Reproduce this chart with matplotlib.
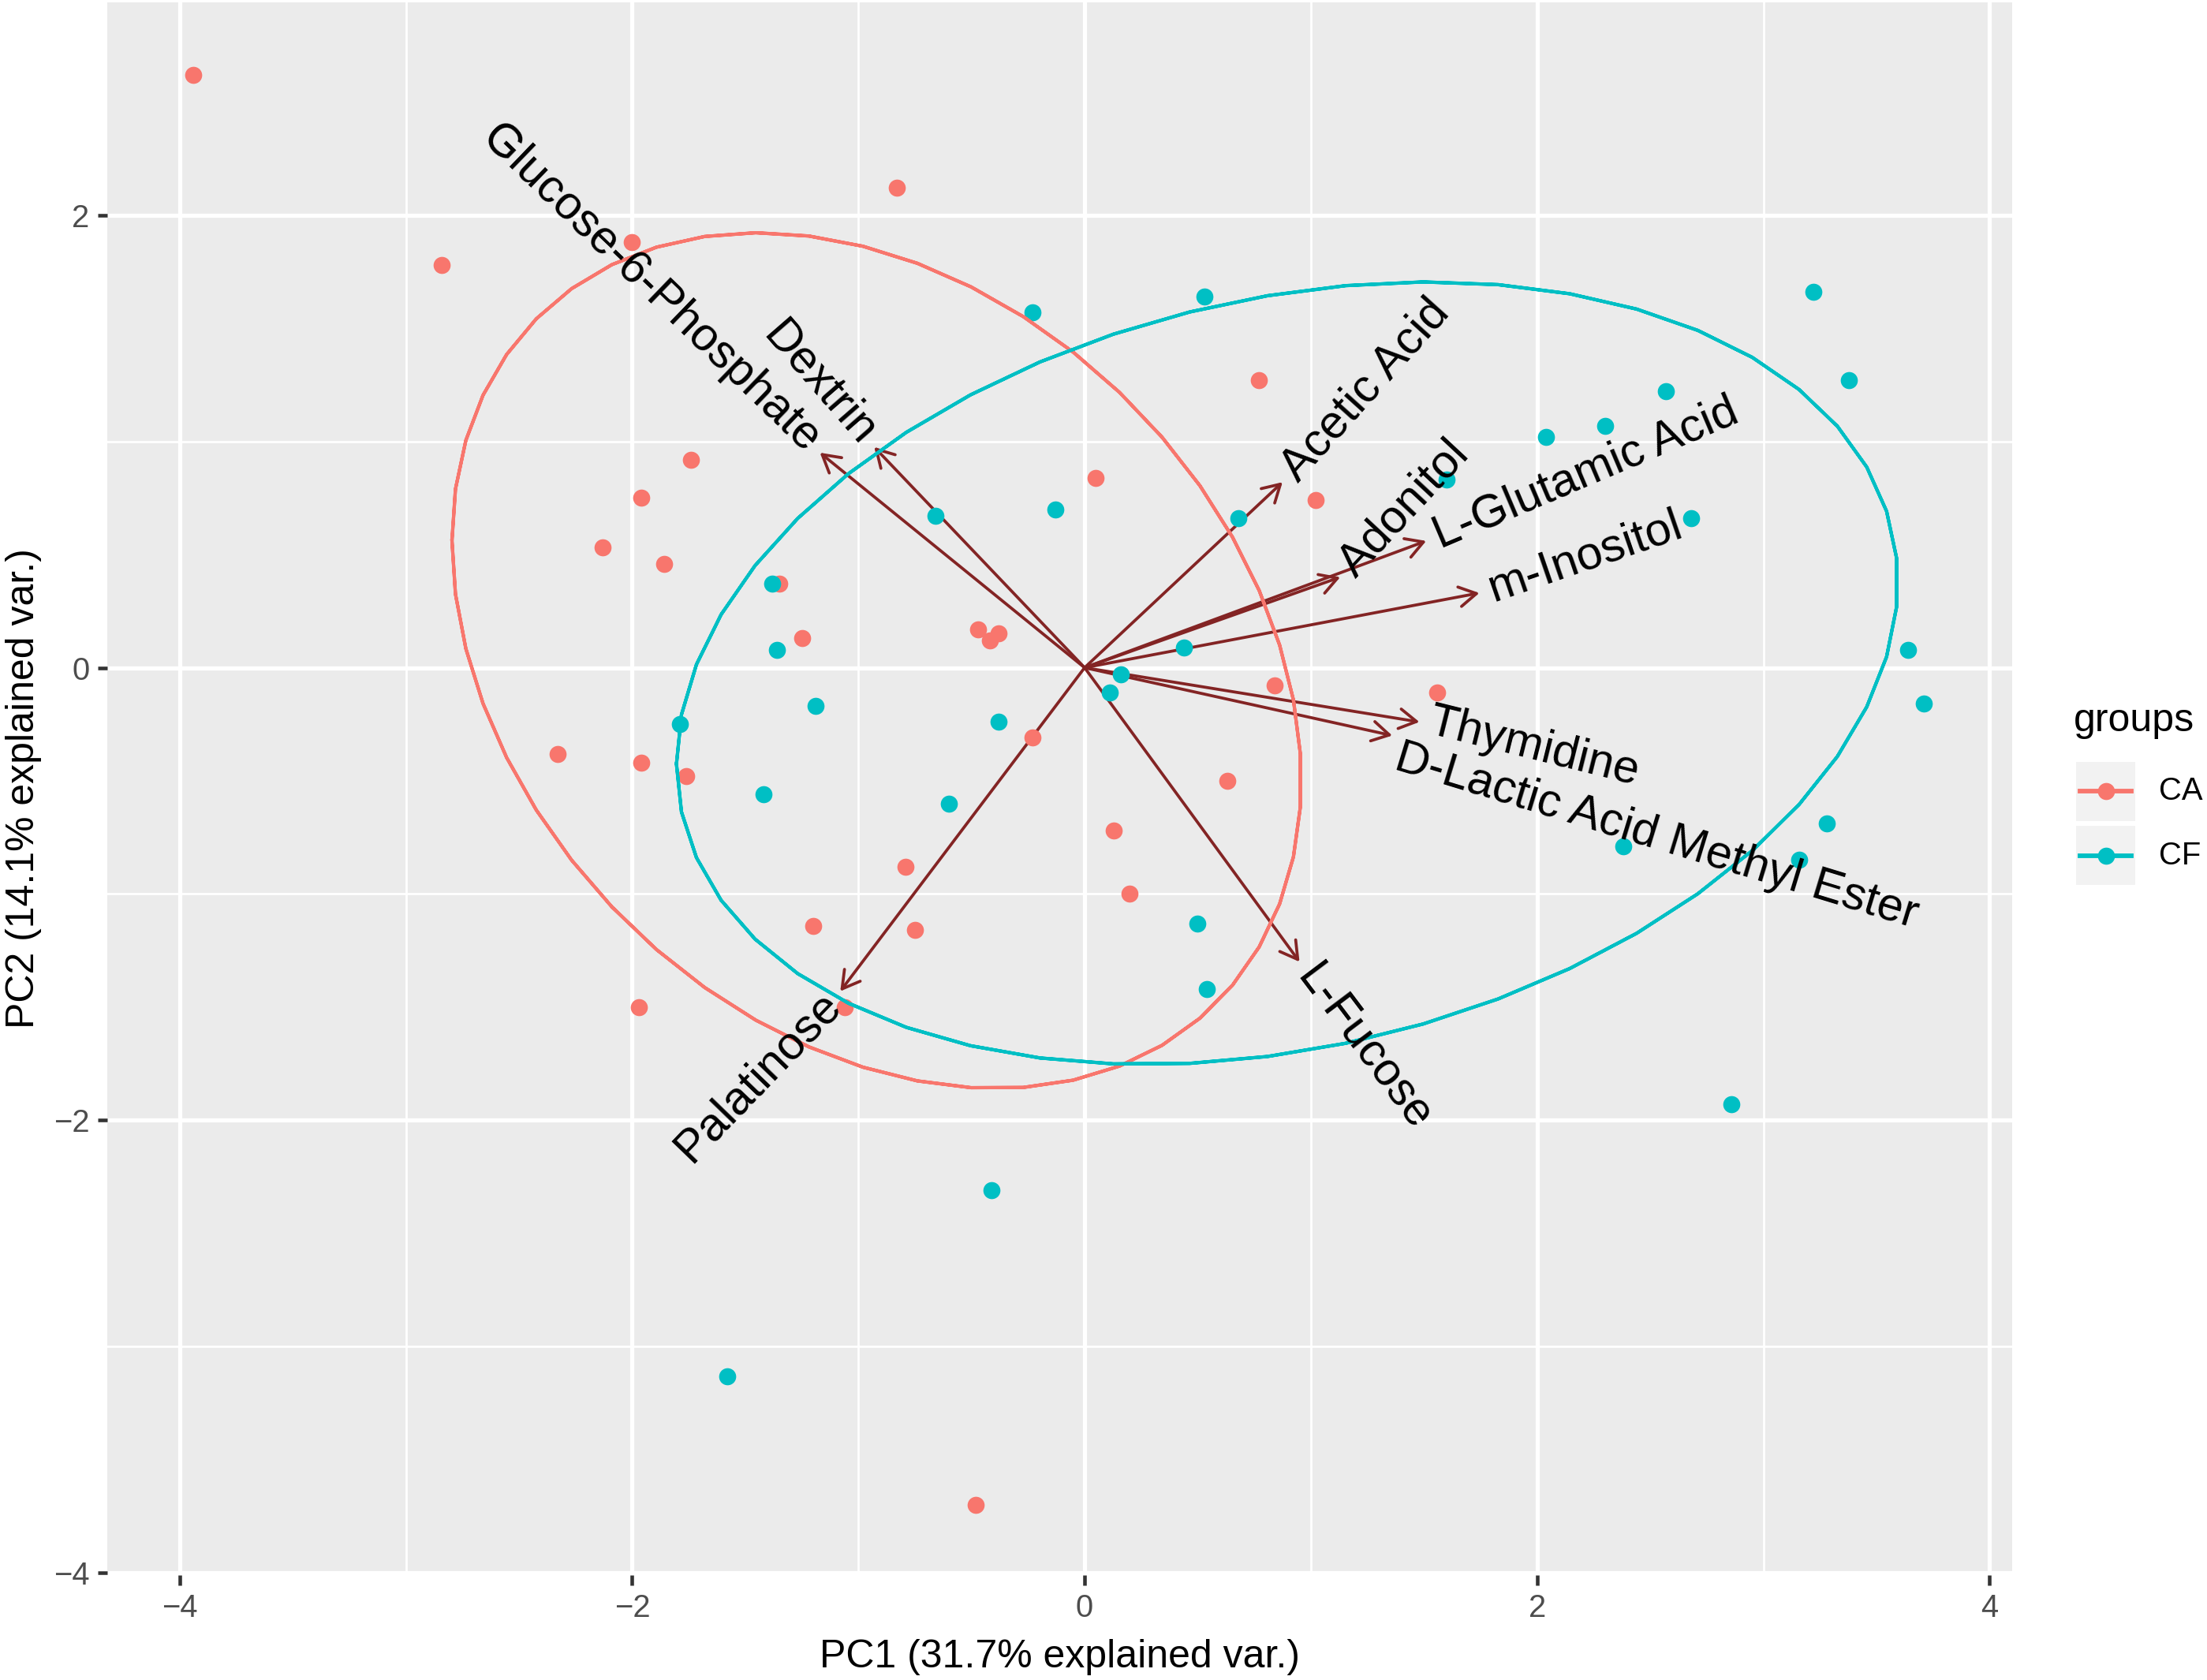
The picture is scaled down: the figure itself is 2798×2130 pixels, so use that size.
import numpy as np
import matplotlib.pyplot as plt
from matplotlib.patches import Rectangle
from matplotlib.lines import Line2D

plt.rcParams['font.family'] = ['Liberation Sans', 'DejaVu Sans']

# scores
groups = ['CA', 'CF']
ca_pc1 = [-3.94, -0.83, -2.84, -2.00, 0.77, -1.74, 0.05, -1.96, 1.02, -2.13, -1.86,
          -1.35, -1.25, -0.47, -0.42, -0.38, 1.56, 0.84, -0.23, -2.33, -1.96, -1.76,
          0.63, 0.13, -0.79, 0.20, -1.20, -0.75, -1.06, -1.97, -0.48]
ca_pc2 = [2.62, 2.12, 1.78, 1.88, 1.27, 0.92, 0.84, 0.75, 0.74, 0.53, 0.46,
          0.37, 0.13, 0.17, 0.12, 0.15, -0.11, -0.08, -0.31, -0.38, -0.42, -0.48,
          -0.50, -0.72, -0.88, -1.00, -1.14, -1.16, -1.50, -1.50, -3.70]
cf_pc1 = [-0.23, 0.53, 3.22, 3.38, 2.57, 2.30, 2.04, 1.60, 2.68, -0.66, -0.13,
          0.68, -1.38, -1.36, 0.44, 3.64, 3.71, 0.16, 0.11, -1.19, -0.38, -1.79,
          -1.42, -0.60, 3.28, 2.38, 3.16, 0.50, 0.54, 2.86, -0.41, -1.58]
cf_pc2 = [1.57, 1.64, 1.66, 1.27, 1.22, 1.07, 1.02, 0.83, 0.66, 0.67, 0.70,
          0.66, 0.37, 0.08, 0.09, 0.08, -0.16, -0.03, -0.11, -0.17, -0.24, -0.25,
          -0.56, -0.60, -0.69, -0.79, -0.85, -1.13, -1.42, -1.93, -2.31, -3.13]

# loadings (arrow tips)
var_names = ['Glucose-6-Phosphate', 'Dextrin', 'Acetic Acid', 'Adonitol',
             'L-Glutamic Acid', 'm-Inositol', 'Thymidine',
             'D-Lactic Acid Methyl Ester', 'L-Fucose', 'Palatinose']
var_pc1 = [-1.17, -0.93, 0.875, 1.13, 1.51, 1.745, 1.48, 1.36, 0.95, -1.08]
var_pc2 = [0.95, 0.975, 0.82, 0.40, 0.56, 0.33, -0.24, -0.30, -1.30, -1.43]
label_angle = [-44, -49, 48, 47, 23, 19, -14, -17, -53, 46]
# sideways shift of a name off its arrow line, in points
label_shift = [0, 0, 0, 0, 0, 0, 1, -6, 0, 0]

colours = {'CA': '#F8766D', 'CF': '#00BFC4'}
arrow_col = '#832424'


def conf_ellipse(x, y, prob=0.68):
    pts = np.column_stack([x, y])
    mu = pts.mean(axis=0)
    sigma = np.cov(pts, rowvar=False)
    r = np.linalg.cholesky(sigma).T
    ed = np.sqrt(-2 * np.log(1 - prob))
    theta = np.concatenate([np.linspace(-np.pi, np.pi, 50),
                            np.linspace(np.pi, -np.pi, 50)])
    circle = np.column_stack([np.cos(theta), np.sin(theta)])
    return circle @ r * ed + mu


W, H, DPI = 2798, 2130, 300
fig = plt.figure(figsize=(W / DPI, H / DPI), dpi=DPI)
ax = fig.add_axes([136 / W, 1 - 1997 / H, (2551 - 136) / W, (1997 - 3) / H])
ax.set_facecolor('#EBEBEB')
ax.set_xlim(-4.32, 4.10)
ax.set_ylim(-4.01, 2.94)

ax.set_xticks([-4, -2, 0, 2, 4])
ax.set_xticks([-3, -1, 1, 3], minor=True)
ax.set_yticks([-4, -2, 0, 2])
ax.set_yticks([-3, -1, 1], minor=True)
ax.grid(which='major', color='white', lw=1.25)
ax.grid(which='minor', color='white', lw=0.65)
ax.set_axisbelow(True)
for s in ax.spines.values():
    s.set_visible(False)
ax.tick_params(which='major', length=3, width=1.1, color='#333333',
               labelsize=9.6, labelcolor='#4D4D4D', pad=2.4)
ax.tick_params(which='minor', length=0)

# arrows
for px, py in zip(var_pc1, var_pc2):
    ax.annotate('', xy=(px, py), xytext=(0, 0),
                arrowprops=dict(arrowstyle='->,head_length=0.52,head_width=0.3',
                                color=arrow_col, lw=0.9, shrinkA=0, shrinkB=0),
                zorder=2)

# points
data = {'CA': (ca_pc1, ca_pc2), 'CF': (cf_pc1, cf_pc2)}
for g in groups:
    ax.scatter(data[g][0], data[g][1], s=27, color=colours[g], linewidths=0, zorder=3)

# ellipses
for g in groups:
    ell = conf_ellipse(*data[g])
    ax.plot(ell[:, 0], ell[:, 1], color=colours[g], lw=1.0, zorder=4)

# variable names
gap = 3
for name, px, py, ang, sh in zip(var_names, var_pc1, var_pc2, label_angle, label_shift):
    sgn = 1 if px > 0 else -1
    c, s = np.cos(np.radians(ang)), np.sin(np.radians(ang))
    ox = sgn * gap * c - sh * s
    oy = sgn * gap * s + sh * c
    ax.annotate(name, xy=(px, py), xytext=(ox, oy), textcoords='offset points',
                rotation=ang, rotation_mode='anchor',
                ha='left' if px > 0 else 'right', va='center',
                fontsize=14.2, color='black', zorder=5)

ax.set_xlabel('PC1 (31.7% explained var.)', fontsize=12, labelpad=5)
ax.set_ylabel('PC2 (14.1% explained var.)', fontsize=12, labelpad=3.5)

# legend
fig.text(2629 / W, 1 - 914 / H, 'groups', fontsize=12, ha='left', va='center')
for i, g in enumerate(groups):
    y0 = 966 + i * 81
    yc = 1 - (y0 + 37.5) / H
    fig.add_artist(Rectangle((2632 / W, 1 - (y0 + 75) / H), 75 / W, 75 / H,
                             transform=fig.transFigure, fc='#F2F2F2', ec='none'))
    fig.add_artist(Line2D([2637 / W, 2702 / W], [yc, yc], transform=fig.transFigure,
                          color=colours[g], lw=1.4))
    fig.add_artist(Line2D([2669.5 / W], [yc], transform=fig.transFigure,
                          marker='o', ms=5.2, mew=0, color=colours[g]))
    fig.text(2737 / W, yc, g, fontsize=9.6, ha='left', va='center')

fig.savefig('out.png', dpi=DPI)
